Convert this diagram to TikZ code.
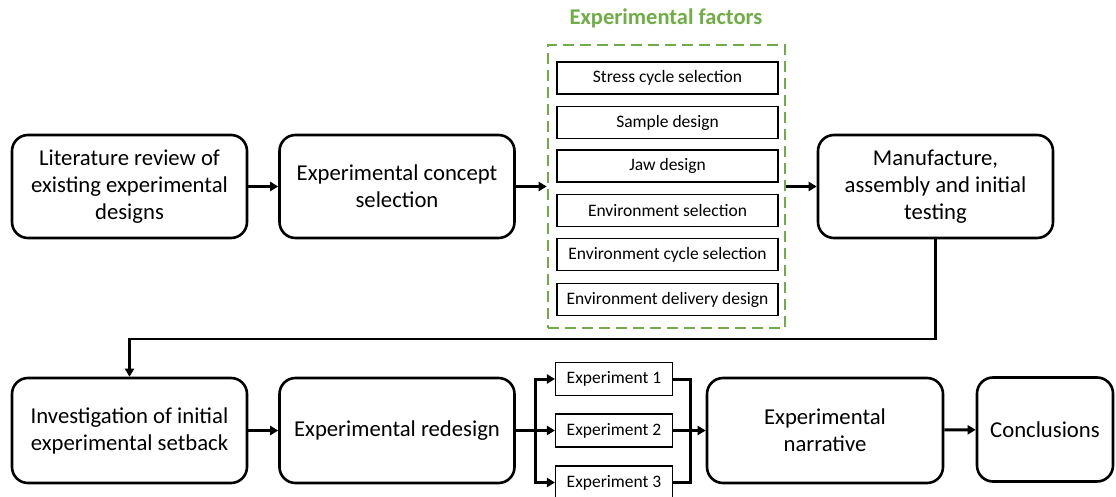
\documentclass[tikz,border=0pt]{standalone}
\usepackage{fontspec}
\setmainfont{Carlito}
\usepackage{xcolor}
\usetikzlibrary{arrows.meta, positioning, calc}
\definecolor{factorgreen}{HTML}{70AD47}
\tikzset{
  >=latex,
  % Blocchi principali del flusso
  stage/.style={draw=black,line width=2.6pt,rounded corners=16pt,minimum height=103pt,
    align=center,font=\fontsize{22.7}{27}\selectfont,inner sep=2pt},
  % Fattori e esperimenti
  factor/.style={draw=black,line width=1.1pt,minimum width=221pt,minimum height=32pt,
    font=\fontsize{17.5}{19}\selectfont,inner sep=1pt},
  trial/.style={draw=black,line width=1.1pt,minimum width=117pt,minimum height=33pt,
    font=\fontsize{17.5}{19}\selectfont,inner sep=1pt},
  frame/.style={draw=factorgreen,line width=2.6pt,dash pattern=on 11pt off 6pt,
    minimum width=237pt,minimum height=283pt},
  % Connessioni
  connect/.style={line width=3pt,black},
  connect arrow/.style={-{Triangle[length=8pt,width=9pt]},line width=3pt,black}
}
\begin{document}
\begin{tikzpicture}[x=1pt,y=-1pt]
    \useasboundingbox (0,0) rectangle (1116,497);
    % prima riga
    \node[stage,minimum width=235pt] (review) at (129.5,186.5)
      {Literature review of\\existing experimental\\designs};
    \node[stage,minimum width=235pt] (concept) at (397,186.5)
      {Experimental concept\\selection};
    \node[frame] (factors) at (666.5,186.5) {};
    \node[text=factorgreen,font=\fontsize{22.5}{24}\selectfont\bfseries] (title) at (666,18)
      {Experimental factors};
    \node[factor] (f1) at (667.5,78) {Stress cycle selection};
    \node[factor] (f2) at (667.5,122.5) {Sample design};
    \node[factor] (f3) at (667.5,166) {Jaw design};
    \node[factor] (f4) at (667.5,210.5) {Environment selection};
    \node[factor] (f5) at (667.5,254.5) {Environment cycle selection};
    \node[factor] (f6) at (667.5,299.5) {Environment delivery design};
    \node[stage,minimum width=235pt] (manufacture) at (935.5,186.5)
      {Manufacture,\\assembly and initial\\testing};
    % seconda riga
    \node[stage,minimum width=235pt,minimum height=105pt] (setback) at (129.5,430.5)
      {Investigation of initial\\experimental setback};
    \node[stage,minimum width=235pt,minimum height=105pt] (redesign) at (397,430.5)
      {Experimental redesign};
    \node[trial] (exp1) at (614,379) {Experiment 1};
    \node[trial] (exp2) at (614,430.5) {Experiment 2};
    \node[trial] (exp3) at (614,482.5) {Experiment 3};
    \node[stage,minimum width=236pt,minimum height=105pt] (narrative) at (825,430.5)
      {Experimental\\narrative};
    \node[stage,minimum width=136pt,minimum height=104pt] (conclusions) at (1045,429.5)
      {Conclusions};
    \coordinate (split) at (535,430.5);
    \coordinate (join) at (690,430.5);
    \coordinate (turn) at (129.5,339);
    % frecce
    \draw[connect arrow] (review) -- (concept);
    \draw[connect arrow] (concept) -- (factors);
    \draw[connect arrow] (factors) -- (manufacture);
    \draw[connect arrow,line width=2.4pt] (manufacture.south) |- (turn) -- (setback.north);
    \draw[connect arrow] (setback) -- (redesign);
    \foreach \e in {exp1,exp2,exp3}{
      \draw[connect arrow] (redesign.east) -- (split) |- (\e.west);
      \draw[connect] (\e.east) -| (join);
    }
    \draw[connect arrow] (join) -- (narrative);
    \draw[connect arrow] (narrative) -- (conclusions);
  \end{tikzpicture}
\end{document}
